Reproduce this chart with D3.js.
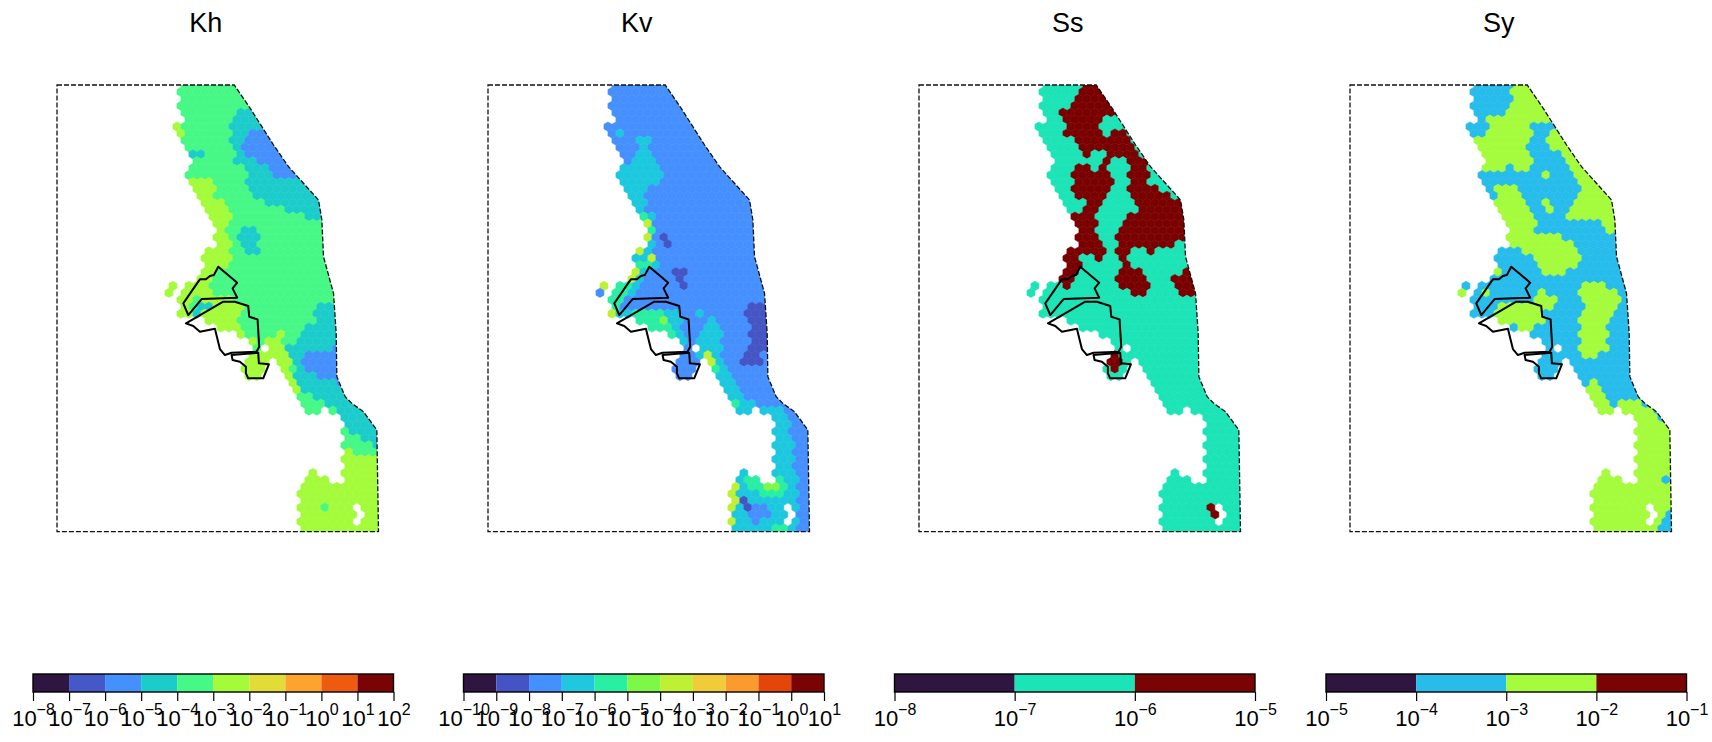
<!DOCTYPE html>
<html>
<head>
<meta charset="utf-8">
<script src="https://cdn.jsdelivr.net/npm/d3@7"></script>
<style>
  html, body { margin: 0; padding: 0; background: #fff; }
  svg { display: block; font-family: "Liberation Sans", Arial, sans-serif; }
</style>
</head>
<body>
<div id="chart"></div>
<script>
// all map outlines below are in model grid units
const modelW = 965;
const modelH = 1340;

const titles = ["Kh", "Kv", "Ss", "Sy"];

const domainOutline = [[0,0],[532,0],[580,70],[650,180],[695,245],[785,345],[795,405],[800,515],[830,625],[838,745],[840,875],[865,935],[885,955],[920,980],[960,1035],[965,1340],[0,1340]];

const activeAreas = [
  [[360,-30],[370,55],[380,100],[355,125],[365,160],[375,185],[400,205],[395,245],[390,270],[410,315],[445,380],[470,415],[475,485],[440,500],[440,545],[420,575],[395,600],[365,645],[360,695],[394,705],[429,705],[479,720],[494,745],[499,795],[524,805],[524,820],[554,835],[560,860],[575,880],[610,875],[628,860],[640,820],[660,830],[690,895],[735,955],[745,980],[820,975],[865,1025],[860,1095],[855,1185],[825,1185],[805,1175],[775,1155],[740,1180],[725,1265],[730,1400],[1010,1400],[1010,-30]],
  [[325,618],[345,590],[360,590],[350,610],[335,625]]
];
const holes = [
  [[494,745],[529,743],[559,765],[584,775],[579,790],[549,795],[499,795]],
  [[609,773],[644,770],[634,790],[609,800]],
  [[524,810],[584,810],[584,830],[554,835],[524,820]],
  [[893,1265],[918,1265],[910,1315],[888,1315]]
];

// black outlines of the three inner zones
const innerZones = [
  [[379,655],[424,590],[429,583],[447,583],[459,573],[471,570],[484,545],[541,593],[527,610],[541,638],[434,642],[394,690]],
  [[387,715],[499,650],[534,650],[574,663],[577,695],[602,703],[607,785],[599,800],[524,803],[504,810],[489,792],[474,731],[429,740],[409,723]],
  [[524,810],[604,803],[606,835],[636,838],[619,880],[574,880],[567,865],[567,845],[549,830],[527,825]]
];

const khColors = ["#2f1640","#4558c8","#4590fd","#1ccccb","#46f886","#a4fb3a","#e1dc38","#fda42f","#ef5a11","#7a0403"];
const kvColors = ["#2f1640","#4454c4","#4490fe","#1fc8de","#29efa2","#7df847","#bef034","#f0cc3a","#fb9a2d","#e4460a","#7a0403"];
const ssColors = ["#2f1640","#1be4b6","#7a0403"];
const syColors = ["#2f1640","#28bceb","#a4fc3c","#7a0403"];

const khExponents = [-8,-7,-6,-5,-4,-3,-2,-1,0,1,2];
const kvExponents = [-10,-9,-8,-7,-6,-5,-4,-3,-2,-1,0,1];
const ssExponents = [-8,-7,-6,-5];
const syExponents = [-5,-4,-3,-2,-1];

// [class, polygon], later ones lie on top of earlier ones
const khBase = 4;
const khZones = [
  [5, [[355,120],[375,120],[378,160],[355,160]]],
  [5, [[300,265],[460,290],[485,345],[528,385],[510,455],[530,515],[522,550],[480,555],[470,585],[457,625],[555,650],[560,680],[545,710],[560,745],[590,770],[560,800],[500,800],[340,800],[300,700]]],
  [5, [[640,755],[670,740],[690,785],[695,825],[710,865],[735,945],[745,985],[700,965],[660,900],[620,900],[500,900],[520,805],[605,800],[610,775]]],
  [5, [[850,1095],[910,1105],[960,1115],[1010,1115],[1010,1400],[700,1400],[700,1145]]],
  [4, [[389,650],[436,640],[440,675],[400,695]]],
  [4, [[770,1250],[805,1255],[810,1285],[790,1275]]],
  [3, [[399,685],[434,650],[484,650],[439,675],[419,690]]],
  [3, [[560,70],[530,100],[525,135],[515,165],[540,235],[570,265],[575,320],[620,355],[690,380],[780,405],[850,400],[850,300],[700,180],[620,70]]],
  [3, [[565,415],[545,455],[570,510],[595,515],[610,470],[590,435]]],
  [3, [[400,190],[440,205],[420,215],[405,215]]],
  [3, [[825,645],[765,675],[770,710],[730,735],[730,765],[695,785],[700,835],[720,875],[750,925],[800,960],[845,980],[890,1045],[955,1095],[1010,1095],[1010,640]]],
  [2, [[570,135],[550,175],[560,200],[610,230],[650,270],[700,280],[735,278],[760,250],[700,170],[620,130]]],
  [2, [[740,795],[728,830],[760,865],[800,885],[845,895],[870,895],[870,775],[805,805]]]
];

const kvBase = 2;
const kvZones = [
  [3, [[446,160],[486,160],[501,235],[526,290],[476,310],[466,345],[481,385],[441,385],[340,275],[416,235],[446,215]]],
  [3, [[361,125],[411,150],[381,150]]],
  [3, [[441,385],[501,395],[496,485],[516,525],[501,555],[461,575],[436,525],[436,495],[476,475],[466,425]]],
  [4, [[440,375],[480,385],[500,410],[495,470],[470,490],[430,500],[445,520],[500,525],[495,540],[450,545]]],
  [6, [[466,400],[490,400],[490,475],[475,480]]],
  [6, [[430,495],[465,495],[455,510],[430,510]]],
  [6, [[480,515],[505,515],[505,530],[480,530]]],
  [3, [[340,620],[455,570],[460,600],[420,690],[395,720],[340,720]]],
  [4, [[340,610],[400,590],[440,570],[450,590],[400,640],[385,700],[340,710]]],
  [6, [[340,590],[365,590],[365,630],[340,630]]],
  [6, [[425,570],[445,560],[450,575],[420,600]]],
  [6, [[350,680],[385,680],[390,710],[355,710]]],
  [2, [[402,660],[420,640],[434,650],[410,680]]],
  [3, [[466,675],[566,675],[586,735],[596,775],[576,785],[556,745],[506,715],[466,715]]],
  [4, [[446,675],[516,675],[556,725],[586,765],[566,770],[516,735],[476,725],[416,705],[386,710]]],
  [5, [[500,685],[545,710],[535,725],[505,705]]],
  [3, [[621,670],[646,680],[630,690]]],
  [3, [[626,745],[671,700],[701,735],[696,805],[721,860],[776,950],[836,965],[896,975],[906,1015],[921,1155],[931,1215],[935,1400],[730,1400],[720,1260],[746,1175],[760,1150],[700,1100],[600,1000],[620,860],[640,830],[626,790]]],
  [4, [[626,795],[671,795],[686,855],[716,915],[746,955],[741,985],[706,935],[686,895],[646,810]]],
  [6, [[636,805],[660,790],[695,890],[735,945],[745,985],[735,985],[690,900],[655,830]]],
  [4, [[776,1160],[806,1175],[826,1190],[851,1190],[881,1175],[906,1215],[871,1240],[826,1235],[776,1195]]],
  [5, [[826,1190],[851,1190],[881,1195],[871,1220],[836,1205]]],
  [5, [[770,1150],[805,1170],[780,1175]]],
  [2, [[766,1265],[796,1255],[846,1265],[836,1305],[806,1315],[776,1295]]],
  [4, [[850,1320],[900,1320],[900,1400],[850,1400]]],
  [6, [[746,1185],[761,1205],[736,1295],[746,1400],[725,1400],[715,1275]]],
  [1, [[521,445],[545,445],[551,490],[530,490]]],
  [1, [[561,560],[590,560],[596,610],[565,610]]],
  [1, [[806,645],[845,645],[845,790],[825,800],[825,810],[810,848],[770,850],[763,815],[790,800],[775,745],[790,715],[766,700],[790,665]]],
  [1, [[766,1245],[794,1255],[781,1270]]],
  [1, [[791,1275],[811,1290],[795,1295]]]
];

const ssBase = 1;
const ssZones = [
  [2, [[488,-30],[550,-30],[620,75],[553,105],[543,140],[568,160],[598,130],[613,135],[643,185],[693,235],[688,295],[723,315],[793,345],[830,355],[830,470],[753,480],[703,500],[643,490],[623,515],[623,535],[648,545],[693,585],[693,615],[658,630],[613,615],[588,575],[603,535],[593,435],[623,395],[663,385],[633,335],[613,315],[633,275],[623,235],[593,215],[558,205],[503,210],[488,180],[443,145],[423,105],[433,75],[463,50],[488,15]]],
  [2, [[468,245],[493,230],[528,250],[568,225],[578,295],[553,355],[533,385],[528,425],[548,465],[568,495],[553,530],[523,525],[498,500],[473,500],[493,545],[463,575],[458,605],[433,605],[423,575],[433,500],[468,495],[478,465],[463,435],[468,405],[463,385],[493,380],[498,355],[468,325],[463,295]]],
  [2, [[433,260],[453,285],[448,295],[423,275]]],
  [2, [[798,540],[850,605],[850,635],[793,635],[758,580],[788,570]]],
  [2, [[583,810],[608,810],[603,855],[583,865],[568,840]]],
  [2, [[858,1265],[888,1255],[898,1275],[888,1295],[873,1290],[868,1275]]],
  [1, [[750,458],[770,458],[770,475],[750,475]]]
];

const syBase = 1;
const syZones = [
  [2, [[479,-30],[560,-30],[620,100],[599,125],[549,120],[539,185],[551,240],[509,260],[484,230],[469,255],[389,255],[340,250],[369,175],[419,135],[399,105],[429,90],[459,110],[484,35]]],
  [2, [[589,130],[650,130],[720,220],[800,330],[830,355],[830,440],[769,440],[729,395],[669,410],[651,390],[689,345],[694,285],[649,230],[639,195],[604,190],[594,160]]],
  [2, [[429,295],[479,290],[504,325],[549,385],[554,430],[579,450],[639,450],[694,515],[679,540],[629,575],[589,575],[559,550],[544,515],[479,480],[469,435],[459,395],[449,375],[429,325]]],
  [2, [[574,355],[600,350],[614,375],[600,392],[578,385]]],
  [2, [[584,270],[600,270],[600,282],[585,282]]],
  [2, [[674,625],[729,585],[799,615],[819,645],[799,695],[769,735],[774,785],[739,820],[709,825],[689,785],[684,715],[704,655]]],
  [2, [[544,635],[579,620],[619,635],[619,645],[609,675],[579,690],[570,655],[540,650]]],
  [2, [[434,650],[499,650],[574,665],[579,705],[529,745],[479,715],[429,705]]],
  [2, [[699,905],[739,890],[764,925],[764,950],[789,960],[819,940],[859,945],[879,960],[919,985],[980,1035],[1010,1045],[1010,1400],[600,1400],[600,1000]]],
  [2, [[324,605],[354,605],[340,630],[324,630]]],
  [2, [[380,620],[430,620],[410,640]]],
  [2, [[439,545],[469,565],[445,575]]],
  [2, [[389,645],[405,645],[400,665]]],
  [1, [[733,960],[755,960],[755,982],[733,982]]],
  [1, [[945,1175],[975,1175],[975,1195],[945,1195]]],
  [1, [[929,1305],[959,1285],[1010,1285],[1010,1400],[929,1400]]]
];

const width = 1712;
const height = 742;
const panelLeft = [57, 488, 919, 1350];
const panelWidth = 321.5;
const mapTop = 85;
const mapHeight = 446.7;
const barLeft = [33, 463.5, 894.5, 1326];
const barWidth = 360.5;
const barTop = 674;
const barHeight = 18;
const hexWidth = 24; // mesh cell size in model units

const panels = [
  { colors: khColors, exponents: khExponents, base: khBase, zones: khZones },
  { colors: kvColors, exponents: kvExponents, base: kvBase, zones: kvZones },
  { colors: ssColors, exponents: ssExponents, base: ssBase, zones: ssZones },
  { colors: syColors, exponents: syExponents, base: syBase, zones: syZones }
];

// mesh cell centres that are part of the model
const hexSide = hexWidth / Math.sqrt(3);
const rowStep = hexSide * 1.5;
const cells = [];
d3.range(0, Math.ceil(1400 / rowStep)).forEach(function (row) {
  d3.range(0, Math.ceil(1010 / hexWidth) + 1).forEach(function (col) {
    const cx = col * hexWidth + (row % 2 ? hexWidth / 2 : 0);
    const cy = row * rowStep;
    const inside = activeAreas.some(function (a) { return d3.polygonContains(a, [cx, cy]); });
    const inHole = holes.some(function (h) { return d3.polygonContains(h, [cx, cy]); });
    if (inside && !inHole) cells.push([cx, cy]);
  });
});

const svg = d3.select("#chart").append("svg").attr("width", width).attr("height", height);

const defs = svg.append("defs");
defs.append("filter").attr("id", "soft")
  .append("feGaussianBlur").attr("stdDeviation", 0.45);

panels.forEach(function (p, i) {
  const x = d3.scaleLinear().domain([0, modelW]).range([panelLeft[i], panelLeft[i] + panelWidth]);
  const y = d3.scaleLinear().domain([0, modelH]).range([mapTop, mapTop + mapHeight]);
  const outline = d3.line().x(function (d) { return x(d[0]); }).y(function (d) { return y(d[1]); });

  const color = d3.scaleOrdinal().domain(d3.range(p.colors.length)).range(p.colors);

  function cellClass(c) {
    for (let k = p.zones.length - 1; k >= 0; k--) {
      if (d3.polygonContains(p.zones[k][1], c)) return p.zones[k][0];
    }
    return p.base;
  }

  function hexagon(c) {
    const pts = d3.range(6).map(function (k) {
      const a = Math.PI / 3 * k + Math.PI / 6;
      return [c[0] + hexSide * Math.cos(a), c[1] + hexSide * Math.sin(a)];
    });
    return outline(pts) + "Z";
  }

  defs.append("clipPath").attr("id", "clip" + i)
    .append("path").attr("d", outline(domainOutline) + "Z");

  svg.append("text")
    .attr("x", x(modelW / 2) - 12)
    .attr("y", 32)
    .attr("text-anchor", "middle")
    .attr("font-size", 27)
    .attr("fill", "#000")
    .text(titles[i]);

  svg.append("g")
    .attr("clip-path", "url(#clip" + i + ")")
    .append("g")
    .attr("filter", "url(#soft)")
    .selectAll("path")
    .data(cells)
    .enter()
    .append("path")
    .attr("d", hexagon)
    .attr("fill", function (d) { return color(cellClass(d)); })
    .attr("stroke", function (d) { return color(cellClass(d)); })
    .attr("stroke-width", 0.6);

  svg.append("path")
    .attr("d", outline(domainOutline) + "Z")
    .attr("fill", "none")
    .attr("stroke", "#111")
    .attr("stroke-width", 1.3)
    .attr("stroke-dasharray", "5,2");

  svg.append("g")
    .selectAll("path")
    .data(innerZones)
    .enter()
    .append("path")
    .attr("d", function (d) { return outline(d) + "Z"; })
    .attr("fill", "none")
    .attr("stroke", "#000")
    .attr("stroke-width", 2)
    .attr("stroke-linejoin", "round");

  // colour bar
  const first = p.exponents[0];
  const last = p.exponents[p.exponents.length - 1];
  const barX = d3.scaleLinear().domain([first, last]).range([barLeft[i], barLeft[i] + barWidth]);

  svg.append("g")
    .selectAll("rect")
    .data(p.colors)
    .enter()
    .append("rect")
    .attr("x", function (d, k) { return barX(p.exponents[k]); })
    .attr("y", barTop)
    .attr("width", function (d, k) { return barX(p.exponents[k + 1]) - barX(p.exponents[k]); })
    .attr("height", barHeight)
    .attr("fill", function (d) { return d; });

  svg.append("rect")
    .attr("x", barLeft[i])
    .attr("y", barTop)
    .attr("width", barWidth)
    .attr("height", barHeight)
    .attr("fill", "none")
    .attr("stroke", "#000")
    .attr("stroke-width", 1.4);

  const axis = svg.append("g")
    .attr("transform", "translate(0," + (barTop + barHeight) + ")")
    .call(d3.axisBottom(barX).tickValues(p.exponents).tickSize(9).tickFormat(""));
  axis.select(".domain").remove();
  axis.selectAll(".tick line").attr("stroke", "#000").attr("stroke-width", 1.2);

  const labels = axis.selectAll(".tick text")
    .attr("y", 34)
    .attr("dy", 0)
    .attr("font-family", "Liberation Sans")
    .attr("fill", "#000")
    .attr("text-anchor", "middle");
  labels.append("tspan").attr("font-size", 22).text("10");
  labels.append("tspan")
    .attr("font-size", 16)
    .attr("dy", -11)
    .text(function (d) { return String(d).replace("-", "\u2212"); });
});
</script>
</body>
</html>
